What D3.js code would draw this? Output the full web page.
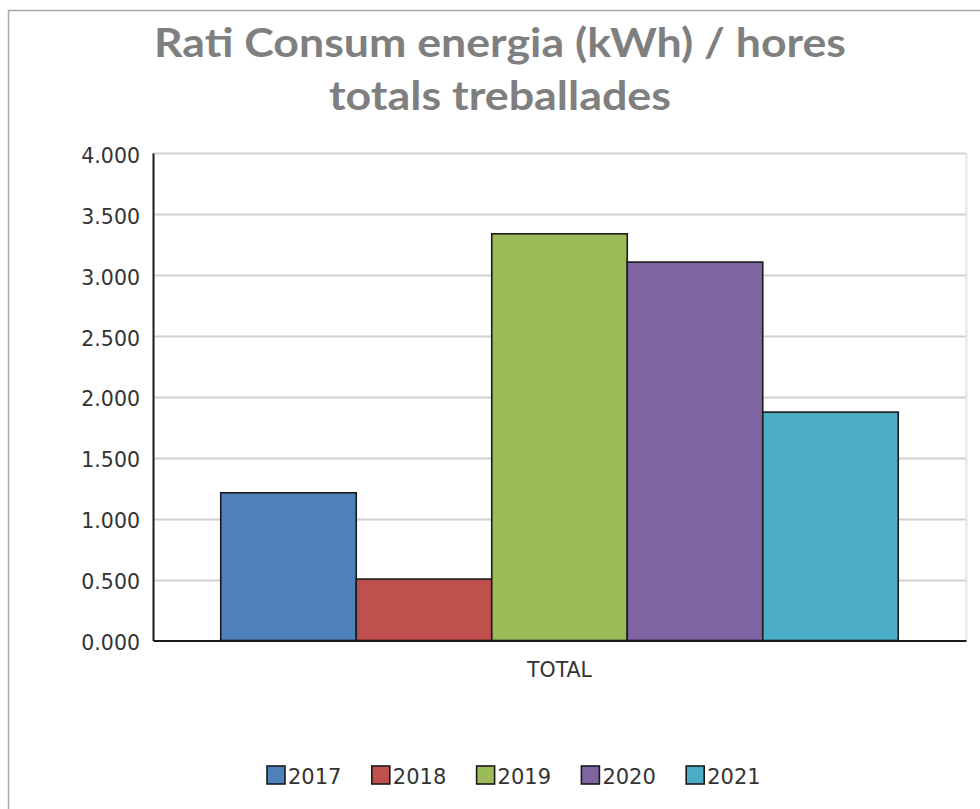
<!DOCTYPE html>
<html lang="ca">
<head>
	<meta charset="utf-8">
	<title>Rati Consum energia</title>
	<script src="https://cdn.jsdelivr.net/npm/d3@7/dist/d3.min.js"></script>
	<style>
		body { margin: 0; background: #fff; }
		text { font-family: "DejaVu Sans", sans-serif; fill: #333; }
		.title { font-family: Lato, "Open Sans", sans-serif; font-weight: bold; fill: #7f7f7f; }
		.grid line { stroke: #d0d0d0; stroke-width: 2; }
	</style>
</head>
<body>
	<script>
		// data
		var category = "TOTAL";
		var years = ["2017", "2018", "2019", "2020", "2021"];
		var values = [1.212, 0.504, 3.337, 3.105, 1.874];
		var colors = ["#4F81BD", "#C0504D", "#9BBB59", "#8064A2", "#4BACC6"];
		var yTicks = [0, 0.5, 1, 1.5, 2, 2.5, 3, 3.5, 4];
		var titleLines = ["Rati Consum energia (kWh) / hores", "totals treballades"];

		var width = 980;
		var height = 809;
		var margin = {top: 153, right: 14, bottom: 168.5, left: 153};
		var plotW = width - margin.left - margin.right;
		var plotH = height - margin.top - margin.bottom;

		var svg = d3.select("body")
			.append("svg")
			.attr("width", width)
			.attr("height", height);

		// outer chart border (cut off on right and bottom)
		svg.append("rect")
			.attr("x", 8.5)
			.attr("y", 10.5)
			.attr("width", 1000)
			.attr("height", 1000)
			.attr("fill", "none")
			.attr("stroke", "#a6a6a6")
			.attr("stroke-width", 1.5);

		// title
		svg.selectAll("text.title")
			.data(titleLines)
			.enter()
			.append("text")
			.attr("class", "title")
			.attr("x", 500)
			.attr("y", function(d, i) { return 57 + i * 53; })
			.attr("text-anchor", "middle")
			.attr("font-size", 40)
			.attr("textLength", function(d, i) { return i == 0 ? 692 : 342; })
			.attr("lengthAdjust", "spacingAndGlyphs")
			.text(function(d) { return d; });

		var g = svg.append("g")
			.attr("transform", "translate(" + margin.left + "," + margin.top + ")");

		var y = d3.scaleLinear()
			.domain([0, 4])
			.range([plotH, 0]);

		var x0 = d3.scaleBand()
			.domain([category])
			.range([0, plotW])
			.paddingOuter(0.1);

		var x1 = d3.scaleBand()
			.domain(years)
			.range([0, x0.bandwidth()]);

		// gridlines
		g.append("g")
			.attr("class", "grid")
			.selectAll("line")
			.data(yTicks.slice(1))
			.enter()
			.append("line")
			.attr("x1", 0)
			.attr("x2", plotW)
			.attr("y1", function(d) { return Math.round(y(d)) + 0.5; })
			.attr("y2", function(d) { return Math.round(y(d)) + 0.5; });

		// plot area right edge
		g.append("line")
			.attr("x1", plotW + 0.5)
			.attr("x2", plotW + 0.5)
			.attr("y1", 0)
			.attr("y2", plotH)
			.attr("stroke", "#e6e6e6")
			.attr("stroke-width", 2);

		// bars
		g.selectAll("rect.bar")
			.data(values)
			.enter()
			.append("rect")
			.attr("class", "bar")
			.attr("x", function(d, i) { return x0(category) + x1(years[i]); })
			.attr("y", function(d) { return y(d); })
			.attr("width", x1.bandwidth())
			.attr("height", function(d) { return plotH - y(d); })
			.attr("fill", function(d, i) { return colors[i]; })
			.attr("stroke", "#1a1a1a")
			.attr("stroke-width", 1.6);

		// y axis
		var yAxis = g.append("g")
			.call(d3.axisLeft(y)
				.tickValues(yTicks)
				.tickSize(0)
				.tickPadding(13)
				.tickFormat(d3.format(".3f")));
		yAxis.select(".domain").attr("stroke", "#1a1a1a").attr("stroke-width", 2);
		yAxis.selectAll("text")
			.attr("font-size", 20.5)
			.attr("font-family", "DejaVu Sans")
			.attr("fill", "#333")
			.attr("dy", "0.45em");

		// x axis
		var xAxis = g.append("g")
			.attr("transform", "translate(0," + plotH + ")")
			.call(d3.axisBottom(x0).tickSize(0).tickPadding(22));
		xAxis.select(".domain").attr("stroke", "#1a1a1a").attr("stroke-width", 2);
		xAxis.selectAll("text")
			.attr("font-size", 20.5)
			.attr("font-family", "DejaVu Sans")
			.attr("fill", "#333");

		// legend
		var legend = svg.append("g")
			.selectAll("g")
			.data(years)
			.enter()
			.append("g")
			.attr("transform", function(d, i) { return "translate(" + (267 + i * 104.8) + ",766)"; });

		legend.append("rect")
			.attr("width", 18)
			.attr("height", 18)
			.attr("fill", function(d, i) { return colors[i]; })
			.attr("stroke", "#1a1a1a")
			.attr("stroke-width", 1.6);

		legend.append("text")
			.attr("x", 21)
			.attr("y", 18)
			.attr("font-size", 21)
			.text(function(d) { return d; });
	</script>
</body>
</html>
